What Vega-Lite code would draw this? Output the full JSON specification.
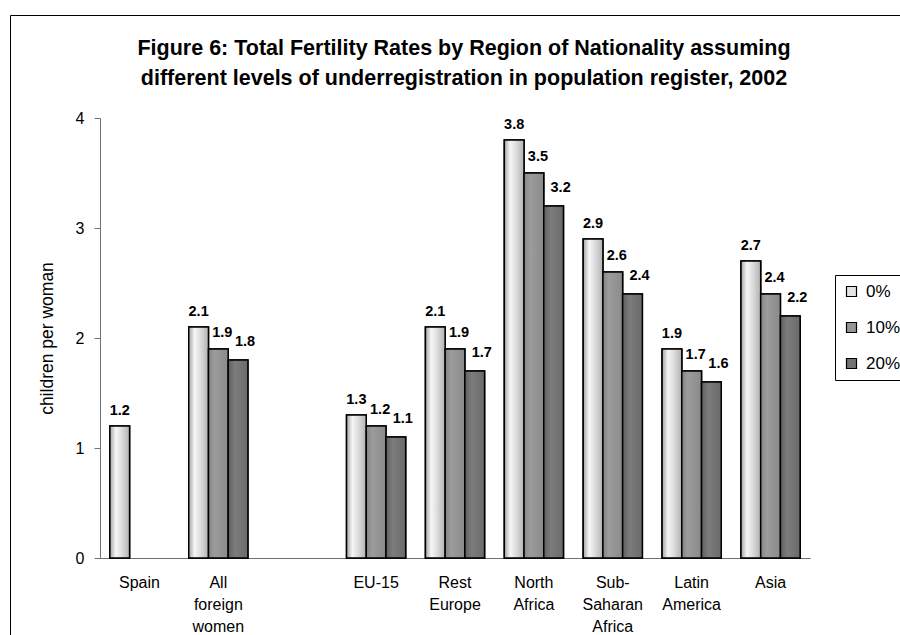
{
  "$schema": "https://vega.github.io/schema/vega-lite/v6.json",
  "autosize": {"type": "none"},
  "width": 900,
  "height": 630,
  "padding": {"left": 10, "top": 15, "right": -10, "bottom": -10},
  "background": "white",
  "title": {
    "text": [
      "Figure 6: Total Fertility Rates by Region of Nationality assuming",
      "different levels of underregistration in population register, 2002"
    ],
    "fontSize": 21.5,
    "fontWeight": "bold",
    "font": "Liberation Sans",
    "color": "black",
    "anchor": "middle",
    "baseline": "alphabetic",
    "lineHeight": 30,
    "offset": -91,
    "dx": 4
  },
  "data": {
    "values": [
      {"region": "Spain", "level": "0%", "tfr": 1.2},
      {"region": "All foreign women", "level": "0%", "tfr": 2.1},
      {"region": "All foreign women", "level": "10%", "tfr": 1.9},
      {"region": "All foreign women", "level": "20%", "tfr": 1.8},
      {"region": "EU-15", "level": "0%", "tfr": 1.3},
      {"region": "EU-15", "level": "10%", "tfr": 1.2},
      {"region": "EU-15", "level": "20%", "tfr": 1.1},
      {"region": "Rest Europe", "level": "0%", "tfr": 2.1},
      {"region": "Rest Europe", "level": "10%", "tfr": 1.9},
      {"region": "Rest Europe", "level": "20%", "tfr": 1.7},
      {"region": "North Africa", "level": "0%", "tfr": 3.8},
      {"region": "North Africa", "level": "10%", "tfr": 3.5},
      {"region": "North Africa", "level": "20%", "tfr": 3.2},
      {"region": "Sub-Saharan Africa", "level": "0%", "tfr": 2.9},
      {"region": "Sub-Saharan Africa", "level": "10%", "tfr": 2.6},
      {"region": "Sub-Saharan Africa", "level": "20%", "tfr": 2.4},
      {"region": "Latin America", "level": "0%", "tfr": 1.9},
      {"region": "Latin America", "level": "10%", "tfr": 1.7},
      {"region": "Latin America", "level": "20%", "tfr": 1.6},
      {"region": "Asia", "level": "0%", "tfr": 2.7},
      {"region": "Asia", "level": "10%", "tfr": 2.4},
      {"region": "Asia", "level": "20%", "tfr": 2.2}
    ]
  },
  "encoding": {
    "x": {
      "field": "region",
      "type": "nominal",
      "sort": null,
      "scale": {
        "domain": ["Spain", "All foreign women", " ", "EU-15", "Rest Europe", "North Africa", "Sub-Saharan Africa", "Latin America", "Asia"],
        "range": [90, 800],
        "paddingInner": 0.25,
        "paddingOuter": 0.125
      },
      "axis": {
        "title": null,
        "offset": -87,
        "ticks": false,
        "domainColor": "#707070",
        "domainWidth": 1,
        "labelAngle": 0,
        "labelFontSize": 16,
        "labelColor": "black",
        "labelPadding": 16,
        "labelLineHeight": 22,
        "labelOverlap": false,
        "labelExpr": "split(replace(datum.label, '-S', '- S'), ' ')"
      }
    },
    "xOffset": {
      "field": "level",
      "type": "nominal",
      "scale": {"domain": ["0%", "10%", "20%"], "paddingInner": 0, "paddingOuter": 0}
    },
    "y": {
      "field": "tfr",
      "type": "quantitative",
      "scale": {"domain": [0, 4], "range": [543, 103], "nice": false},
      "axis": {
        "title": "children per woman",
        "offset": -90,
        "values": [0, 1, 2, 3, 4],
        "grid": false,
        "domainColor": "#707070",
        "tickColor": "#707070",
        "tickSize": 6,
        "labelFontSize": 16,
        "labelColor": "black",
        "labelPadding": 10,
        "titleFontSize": 17.5,
        "titleFontWeight": "normal",
        "titleColor": "black",
        "titlePadding": 19
      }
    }
  },
  "layer": [
    {
      "mark": {"type": "bar", "stroke": "black", "strokeWidth": 1.5},
      "encoding": {
        "color": {
          "field": "level",
          "type": "nominal",
          "scale": {"domain": ["0%", "10%", "20%"], "range": ["#e4e4e4", "#969696", "#727272"]},
          "legend": {
            "orient": "none",
            "legendX": 825,
            "legendY": 260,
            "title": null,
            "strokeColor": "black",
            "padding": 8,
            "labelFontSize": 17,
            "labelColor": "black",
            "labelOffset": 6,
            "symbolType": "square",
            "symbolSize": 100,
            "symbolStrokeColor": "black",
            "symbolStrokeWidth": 1.2,
            "rowPadding": 18
          }
        }
      }
    },
    {
      "transform": [{"filter": "datum.level === '0%'"}],
      "mark": {
        "type": "bar",
        "stroke": "black",
        "strokeWidth": 1.5,
        "fill": {
          "gradient": "linear", "x1": 0, "x2": 1, "y1": 0, "y2": 0,
          "stops": [
            {"offset": 0, "color": "#a4a4a4"},
            {"offset": 0.3, "color": "#f6f6f6"},
            {"offset": 0.6, "color": "#dcdcdc"},
            {"offset": 1, "color": "#b2b2b2"}
          ]
        }
      }
    },
    {
      "transform": [{"filter": "datum.level === '10%'"}],
      "mark": {
        "type": "bar",
        "stroke": "black",
        "strokeWidth": 1.5,
        "fill": {
          "gradient": "linear", "x1": 0, "x2": 1, "y1": 0, "y2": 0,
          "stops": [
            {"offset": 0, "color": "#848484"},
            {"offset": 0.3, "color": "#9c9c9c"},
            {"offset": 1, "color": "#8a8a8a"}
          ]
        }
      }
    },
    {
      "transform": [{"filter": "datum.level === '20%'"}],
      "mark": {
        "type": "bar",
        "stroke": "black",
        "strokeWidth": 1.5,
        "fill": {
          "gradient": "linear", "x1": 0, "x2": 1, "y1": 0, "y2": 0,
          "stops": [
            {"offset": 0, "color": "#606060"},
            {"offset": 0.35, "color": "#7c7c7c"},
            {"offset": 1, "color": "#6a6a6a"}
          ]
        }
      }
    },
    {
      "transform": [{"filter": "datum.level === '0%'"}],
      "mark": {"type": "text", "font": "Liberation Sans", "fontSize": 14.5, "fontWeight": "bold", "baseline": "alphabetic", "dx": 0, "dy": -11, "color": "black"},
      "encoding": {"text": {"field": "tfr", "type": "quantitative", "format": ".1f"}}
    },
    {
      "transform": [{"filter": "datum.level === '10%'"}],
      "mark": {"type": "text", "font": "Liberation Sans", "fontSize": 14.5, "fontWeight": "bold", "baseline": "alphabetic", "dx": 4, "dy": -12, "color": "black"},
      "encoding": {"text": {"field": "tfr", "type": "quantitative", "format": ".1f"}}
    },
    {
      "transform": [{"filter": "datum.level === '20%'"}],
      "mark": {"type": "text", "font": "Liberation Sans", "fontSize": 14.5, "fontWeight": "bold", "baseline": "alphabetic", "dx": 7, "dy": -14, "color": "black"},
      "encoding": {"text": {"field": "tfr", "type": "quantitative", "format": ".1f"}}
    }
  ],
  "config": {
    "font": "Liberation Sans",
    "view": {"stroke": "black", "strokeWidth": 1}
  }
}
